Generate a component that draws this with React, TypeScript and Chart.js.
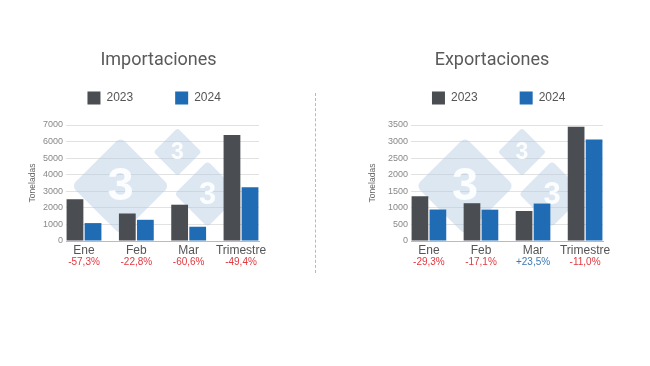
import React, { useEffect, useRef } from 'react';
import { Chart, registerables } from 'chart.js';

Chart.register(...registerables);

const categories = ['Ene', 'Feb', 'Mar', 'Trimestre'];
const seriesLabels = ['2023', '2024'];

const imp2023 = [2520, 1660, 2190, 6400];
const imp2024 = [1080, 1280, 860, 3240];
const impPct = ['-57,3%', '-22,8%', '-60,6%', '-49,4%'];
const impTicks = { max: 7000, step: 1000 };

const exp2023 = [1350, 1140, 905, 3450];
const exp2024 = [950, 945, 1130, 3060];
const expPct = ['-29,3%', '-17,1%', '+23,5%', '-11,0%'];
const expTicks = { max: 3500, step: 500 };

const COLOR_2023 = '#4a4d52';
const COLOR_2024 = '#1f6bb4';

const watermarkPlugin = {
  id: 'watermark',
  beforeDatasetsDraw(chart: any) {
    const { ctx, chartArea } = chart;
    const cx = (chartArea.left + chartArea.right) / 2;
    const cy = (chartArea.top + chartArea.bottom) / 2;
    const marks = [
      [-42, 3, 49],
      [15, -31, 24],
      [45, 11, 33],
    ];
    ctx.save();
    for (const [dx, dy, r] of marks) {
      const x = cx + dx;
      const y = cy + dy;
      ctx.save();
      ctx.translate(x, y);
      ctx.rotate(Math.PI / 4);
      const s = r * Math.SQRT1_2;
      ctx.fillStyle = 'rgba(178,202,226,0.45)';
      ctx.beginPath();
      ctx.roundRect(-s, -s, 2 * s, 2 * s, r * 0.12);
      ctx.fill();
      ctx.restore();
      ctx.fillStyle = 'rgba(255,255,255,0.92)';
      ctx.font = `bold ${Math.round(r * 0.95)}px "Liberation Sans", Arial, sans-serif`;
      ctx.textAlign = 'center';
      ctx.textBaseline = 'middle';
      ctx.fillText('3', x, y + 1);
    }
    ctx.restore();
  },
};

const pctPlugin = {
  id: 'pctLabels',
  afterDraw(chart: any, _args: any, opts: any) {
    const { ctx, chartArea } = chart;
    const xs = chart.scales.x;
    ctx.save();
    ctx.font = '10px "Liberation Sans", Arial, sans-serif';
    ctx.textAlign = 'center';
    ctx.textBaseline = 'middle';
    (opts.labels as string[]).forEach((t, i) => {
      ctx.fillStyle = t.startsWith('+') ? '#3c78b4' : '#e2383f';
      ctx.fillText(t, xs.getPixelForValue(i), chartArea.bottom + opts.offset);
    });
    ctx.restore();
  },
};

type PanelProps = {
  title: string;
  d2023: number[];
  d2024: number[];
  pct: string[];
  yMax: number;
  yStep: number;
  left: number;
  width: number;
  yAxisW: number;
  rightAxisW: number;
  yTitlePad: number;
};

const TOP = 30;
const HEIGHT = 250;

function Panel(p: PanelProps) {
  const ref = useRef<HTMLCanvasElement | null>(null);
  useEffect(() => {
    if (!ref.current) return;
    const chart = new Chart(ref.current, {
      type: 'bar',
      data: {
        datasets: [
          {
            label: seriesLabels[0],
            data: p.d2023.map((v, i) => ({ x: i, y: v })),
            backgroundColor: COLOR_2023,
            categoryPercentage: 0.69,
            barPercentage: 0.93,
          },
          {
            label: seriesLabels[1],
            data: p.d2024.map((v, i) => ({ x: i, y: v })),
            backgroundColor: COLOR_2024,
            categoryPercentage: 0.69,
            barPercentage: 0.93,
          },
        ],
      },
      options: {
        responsive: false,
        animation: false,
        layout: { padding: { top: 0, bottom: 20.6, left: 0, right: 0 } },
        plugins: {
          title: {
            display: true,
            text: p.title,
            color: '#5a5a5a',
            font: { family: 'Roboto, "Liberation Sans", sans-serif', size: 18, weight: 'normal' },
            padding: { top: 19.7, bottom: 8.2 },
          },
          subtitle: {
            display: true,
            text: '',
            weight: 500,
            font: { size: 1 },
            padding: { top: 0, bottom: 9.3 },
          } as any,
          legend: {
            display: true,
            fullSize: false,
            labels: {
              boxWidth: 13,
              boxHeight: 13,
              padding: 12,
              color: '#555',
              font: { family: '"Liberation Sans", Arial, sans-serif', size: 12 },
              generateLabels: (chart: any) => {
                const items = (Chart.defaults.plugins.legend.labels as any).generateLabels(chart);
                items.forEach((it: any, i: number) => {
                  it.text = it.text + ' '.repeat(i === 0 ? 9 : 5);
                  it.lineWidth = 0;
                });
                return items;
              },
            },
          },
          tooltip: { enabled: false },
          pctLabels: { labels: p.pct, offset: 21 },
        } as any,
        scales: {
          x: {
            type: 'linear',
            offset: false,
            min: -0.344,
            max: categories.length - 1 + 0.344,
            afterBuildTicks: (s: any) => {
              s.ticks = categories.map((_, i) => ({ value: i }));
            },
            ticks: {
              callback: (v: any) => categories[v] ?? '',
              color: '#555',
              font: { family: '"Liberation Sans", Arial, sans-serif', size: 12 },
              padding: 2,
              autoSkip: false,
              maxRotation: 0,
            },
            grid: { display: false, drawTicks: false },
            border: { display: true, color: '#bbbbbb' },
          },
          y: {
            min: 0,
            max: p.yMax,
            ticks: {
              stepSize: p.yStep,
              color: '#888',
              font: { family: '"Liberation Sans", Arial, sans-serif', size: 9 },
              padding: 3,
              callback: (v: any) => String(v),
            },
            grid: { color: '#e2e2e2', drawTicks: false },
            border: { display: false },
            title: {
              display: true,
              text: 'Toneladas',
              color: '#666',
              font: { family: '"Liberation Sans", Arial, sans-serif', size: 8.5 },
              padding: { top: p.yTitlePad, bottom: 0 },
            },
            afterFit: (s: any) => {
              s.width = p.yAxisW;
            },
          },
          y2: {
            position: 'right',
            display: true,
            grid: { display: false },
            ticks: { display: false },
            border: { display: false },
            afterFit: (s: any) => {
              s.width = p.rightAxisW;
            },
          },
        },
      } as any,
      plugins: [watermarkPlugin, pctPlugin],
    });
    return () => chart.destroy();
  }, []);
  return (
    <canvas
      ref={ref}
      width={p.width}
      height={HEIGHT}
      style={{ position: 'absolute', left: p.left, top: TOP, width: p.width, height: HEIGHT }}
    />
  );
}

export default function App() {
  return (
    <div
      style={{
        position: 'fixed',
        left: 0,
        top: 0,
        width: 650,
        height: 366,
        background: '#ffffff',
        overflow: 'hidden',
      }}
    >
      <Panel
        title="Importaciones"
        d2023={imp2023}
        d2024={imp2024}
        pct={impPct}
        yMax={impTicks.max}
        yStep={impTicks.step}
        left={15}
        width={287}
        yAxisW={51}
        rightAxisW={43}
        yTitlePad={13}
      />
      <div
        style={{
          position: 'absolute',
          left: 315,
          top: 93,
          width: 0,
          height: 180,
          borderLeft: '1px dashed #a8bcd4',
        }}
      />
      <Panel
        title="Exportaciones"
        d2023={exp2023}
        d2024={exp2024}
        pct={expPct}
        yMax={expTicks.max}
        yStep={expTicks.step}
        left={360}
        width={264}
        yAxisW={51}
        rightAxisW={21}
        yTitlePad={8}
      />
    </div>
  );
}
